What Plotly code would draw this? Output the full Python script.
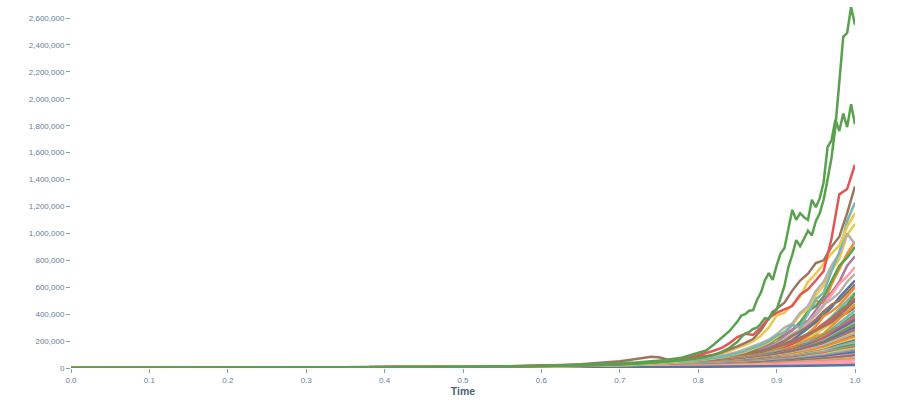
import plotly.graph_objects as go

# ---------------- data (values in thousands) ----------------
UNIT = 1000

T_COARSE = [0, 0.2, 0.4, 0.5, 0.6, 0.65, 0.7, 0.72, 0.74, 0.76, 0.78, 0.8,
            0.82, 0.84, 0.86, 0.88, 0.9, 0.92, 0.94, 0.96, 0.98, 1.0]

T_FINE = [0, 0.1, 0.2, 0.3, 0.4, 0.5, 0.55, 0.6, 0.625, 0.65, 0.675,
          0.70, 0.71, 0.72, 0.73, 0.74, 0.75, 0.76, 0.77, 0.78, 0.79,
          0.80, 0.81, 0.82, 0.83, 0.84, 0.85, 0.86, 0.87, 0.88, 0.89,
          0.90, 0.91, 0.92, 0.93, 0.94, 0.95, 0.96, 0.97, 0.98, 0.99, 1.00]

T_GREEN = [0, 0.1, 0.2, 0.3, 0.4, 0.5, 0.55, 0.6, 0.65, 0.7, 0.72, 0.74, 0.76, 0.78, 0.8, 0.81, 0.82, 0.83, 0.84,
           0.85, 0.855, 0.86, 0.865, 0.87, 0.875, 0.88, 0.885, 0.89, 0.895, 0.9, 0.905, 0.91, 0.915, 0.92,
           0.925, 0.93, 0.935, 0.94, 0.945, 0.95, 0.955, 0.96, 0.965, 0.97, 0.975, 0.98, 0.985, 0.99, 0.995, 1.0]

LOW_SERIES = [
    [0.4, 1.7, 4.5, 7.6, 12.8, 16.4, 22, 24, 27.9, 32, 37.6, 44.8, 55.6, 67.5, 83, 100, 130, 155, 208, 255, 365, 470],
    [0.4, 1.6, 4.3, 7.3, 12.3, 15.8, 21.2, 23.1, 26.8, 30.6, 36, 43, 53, 64.5, 79, 96, 122, 148, 195, 240, 335, 425],
    [0.4, 1.6, 4.2, 7.1, 12, 15.4, 20.8, 22.6, 26.2, 30, 35.1, 42, 51.6, 62.8, 77, 97, 114, 150, 180, 242, 310, 400],
    [0.4, 1.5, 4.1, 7.0, 11.8, 15.2, 20.4, 22.3, 25.6, 29.8, 34.5, 41.6, 50.4, 62, 75, 94, 110, 148, 172, 236, 300, 385],
    [0.4, 1.5, 4.1, 7.0, 11.8, 15.1, 20.4, 22.1, 25.6, 29.4, 34.4, 41.2, 50.5, 61.3, 75, 92, 113, 142, 177, 228, 302, 385],
    [0.4, 1.5, 4.0, 6.9, 11.6, 14.8, 20, 21.8, 25.2, 28.9, 33.8, 40.4, 49.5, 60, 73.5, 90, 110, 138, 172, 220, 290, 365],
    [0.4, 1.5, 4.0, 6.8, 11.4, 14.5, 19.6, 21, 24.6, 28.4, 33.2, 39.5, 48.7, 58.6, 72, 84, 112, 128, 170, 205, 285, 350],
    [0.4, 1.4, 3.9, 6.6, 11.2, 14.3, 19.2, 20.8, 24.1, 27.5, 32.6, 38.4, 47, 56.8, 70, 85, 104, 129, 160, 204, 268, 335],
    [0.4, 1.4, 3.8, 6.4, 10.9, 13.8, 18.8, 20.2, 23.9, 26.6, 32.5, 37.3, 46.9, 55, 70, 83.4, 105, 126, 160, 197, 262, 325],
    [0.4, 1.4, 3.7, 6.3, 10.6, 13.8, 18.3, 19.6, 23.4, 26.5, 31.6, 36.2, 45.8, 54, 68, 80.5, 101, 122, 155, 189, 248, 305],
    [0.3, 1.3, 3.6, 6.2, 10.4, 13.4, 18, 19.5, 22.8, 25.6, 30, 35.4, 43.3, 52.4, 64, 78, 95, 118, 146, 186, 244, 300],
    [0.3, 1.3, 3.5, 6.0, 10.2, 13.1, 17.6, 19.2, 22.1, 25.3, 29.2, 34.8, 42, 51.3, 62, 75.5, 92, 114, 140, 178, 232, 285],
    [0.3, 1.3, 3.5, 6.0, 10.1, 12.8, 17.3, 18.6, 22.4, 24.5, 29.6, 34.2, 42.8, 50, 63, 74.4, 94.6, 113, 144, 175, 225, 275],
    [0.3, 1.2, 3.4, 5.8, 9.9, 12.7, 17.2, 18.6, 21.6, 24.2, 28.4, 33.6, 40.5, 49.2, 59, 72, 88, 108, 132, 168, 218, 265],
    [0.3, 1.2, 3.3, 5.6, 9.6, 12.3, 16.8, 17.6, 21.4, 23.5, 28.5, 32.3, 40.8, 47, 60, 70.6, 89.5, 106, 137, 165, 213, 255],
    [0.3, 1.2, 3.2, 5.5, 9.3, 11.9, 16.2, 17.4, 20.3, 22.7, 26.8, 31.4, 38, 46, 55.5, 67.4, 82, 100, 122, 155, 198, 240],
    [0.3, 1.2, 3.2, 5.5, 9.1, 11.8, 16.3, 17.1, 20.4, 22.5, 26.6, 30.3, 37.8, 44.1, 56, 65.4, 83.5, 98, 127, 152, 198, 235],
    [0.3, 1.1, 3.1, 5.2, 8.8, 11.2, 15.4, 16.6, 19.3, 21.6, 25.4, 29.8, 36, 43.4, 52.3, 63.4, 77, 93, 113, 142, 178, 215],
    [0.3, 1.1, 3.0, 5.0, 8.6, 10.9, 15.2, 15.7, 18.4, 20.6, 24.5, 27.4, 34.7, 40.2, 51, 59.6, 75.4, 88, 112, 132, 172, 205],
    [0.3, 1.1, 3.0, 5.0, 8.6, 10.8, 15.2, 15.6, 18.3, 19.6, 23.4, 26.4, 33.7, 39.1, 49, 56.7, 72.4, 85, 108, 127, 163, 195],
    [0.3, 1.0, 2.8, 4.8, 8.2, 10.5, 14.3, 15.2, 17.8, 20, 23.6, 27.5, 33.4, 40.3, 48.6, 58, 70, 86, 104, 128, 156, 180],
    [0.3, 1.0, 2.8, 4.8, 8.1, 10.4, 14.2, 14.8, 17.3, 19.6, 23.5, 26.5, 32.6, 38.2, 47.9, 55, 69, 80, 101, 118, 150, 175],
    [0.3, 1.0, 2.7, 4.6, 7.8, 10, 13.6, 14.5, 17, 19.1, 22.4, 26.1, 31.6, 37.8, 45.5, 55, 66, 80, 96, 116, 138, 160],
    [0.3, 1.0, 2.6, 4.5, 7.6, 9.8, 13.2, 13.8, 16.4, 17.7, 21.5, 24.6, 30.6, 35.2, 43.8, 51, 63, 74, 91, 106, 132, 155],
    [0.3, 1.0, 2.6, 4.5, 7.6, 9.9, 13.2, 13.8, 16.3, 17.6, 21.4, 23.6, 29.6, 34.3, 41.8, 48.2, 60, 69, 86, 100, 124, 145],
    [0.3, 0.9, 2.5, 4.2, 7.1, 8.9, 12.2, 12.8, 15.3, 16.8, 20.4, 22.6, 28.5, 31.4, 38.7, 45.2, 56, 65, 81, 94, 116, 135],
    [0.3, 0.9, 2.4, 4.0, 6.9, 8.7, 11.7, 12.3, 14.3, 15.7, 19.4, 21.6, 26.5, 30.4, 37.7, 43.2, 52.8, 61, 75, 87, 106, 125],
    [0.2, 0.8, 2.2, 4.0, 6.6, 8.4, 11.2, 11.9, 14.2, 15.8, 18.4, 20.7, 25.4, 28.6, 34.6, 40.5, 49.8, 57.2, 71, 81, 99, 115],
    [0.2, 0.8, 2.1, 3.6, 6.1, 7.9, 10.7, 11.3, 13.2, 14.7, 17.3, 18.6, 23.4, 26.5, 31.6, 36.3, 44.8, 51, 63, 72, 87, 100],
    [0.2, 0.7, 2.0, 3.5, 6.0, 8.1, 10.2, 11.3, 12.7, 14.4, 15.8, 19.5, 22.6, 27.4, 30.6, 37.6, 43.5, 52.8, 59.4, 71, 81, 95],
    [0.2, 0.6, 1.8, 3.0, 5.0, 6.6, 9.0, 9.7, 11.2, 12.8, 15.2, 16.5, 20.4, 22.6, 27.5, 30.5, 36.5, 41, 50.5, 57, 67, 75],
    [0.2, 0.6, 1.8, 3.1, 5.1, 6.4, 8.6, 9.1, 10.8, 12.3, 13.8, 16.4, 18.7, 22.4, 24.6, 29.5, 32.6, 38.8, 43.3, 51, 56, 65],
    [0.2, 0.5, 1.5, 2.8, 4.5, 6.0, 8.0, 8.8, 10, 11.6, 12.8, 15, 16.5, 20, 22.5, 27, 30, 36, 40, 47, 51, 58],
    [0.1, 0.4, 1.2, 2.0, 3.5, 4.5, 6.0, 6.6, 7.4, 8.6, 9.3, 10.4, 12, 13, 15.5, 17, 20, 22, 26, 29, 34, 38],
    [0.1, 0.3, 1.0, 1.8, 3.0, 3.8, 5.0, 5.4, 6.1, 6.5, 7.4, 8.0, 8.8, 9.9, 11, 12, 13.8, 15, 16.5, 18.5, 20, 22],
]
LOW_COLORS = ["orange", "teal", "green", "orange", "purple", "red", "blue", "gray", "green", "red",
              "blue", "purple", "brown", "yellow", "gray", "blue", "orange", "yellow", "blue", "teal",
              "pink", "green", "teal", "red", "yellow", "teal", "purple", "blue", "pink", "brown",
              "gray", "orange", "pink", "pink", "blue"]

MID_SERIES = [
    [0.5, 1.2, 2, 3.5, 5, 8, 11, 14, 17, 19, 22,
     25, 26, 27, 31, 33, 35, 36, 41, 44, 48,
     52, 60, 66, 75, 88, 100, 115, 140, 160, 190,
     215, 260, 320, 300, 410, 500, 480, 620, 740, 850, 940],
    [0.4, 1.1, 2, 3.4, 5, 8, 10, 13, 15, 17, 20,
     23, 25, 26, 27, 29, 33, 35, 38, 41, 46,
     50, 54, 60, 70, 82, 90, 105, 130, 150, 175,
     220, 240, 280, 340, 420, 460, 530, 640, 760, 820, 900],
    [0.4, 1, 1.8, 3, 4.5, 7, 9.5, 12, 14, 16, 19,
     21, 23, 24, 26, 27, 30, 33, 36, 38, 43,
     47, 52, 58, 64, 72, 84, 98, 118, 140, 165,
     190, 240, 285, 320, 350, 430, 510, 560, 640, 760, 830],
    [0.3, 0.8, 1.5, 2.6, 4, 7, 9, 12, 13.5, 15, 18,
     20, 21, 22, 24, 26, 28, 30, 33, 36, 39,
     42, 48, 55, 60, 68, 78, 90, 105, 120, 145,
     175, 200, 225, 280, 335, 390, 460, 540, 625, 680, 750],
    [0.4, 1, 1.8, 3, 4.5, 8, 10, 13, 15, 17, 19,
     22, 24, 25, 27, 28, 31, 33, 36, 38, 42,
     46, 51, 57, 63, 70, 80, 92, 110, 130, 150,
     180, 215, 250, 290, 340, 400, 470, 510, 560, 640, 700],
    [0.3, 0.9, 1.5, 2.6, 4, 6.5, 9, 11, 12.5, 14, 16.5,
     19, 20, 21, 23, 24, 26, 28, 31, 33, 36,
     40, 45, 50, 56, 62, 70, 80, 92, 108, 125,
     150, 175, 205, 250, 295, 340, 395, 450, 525, 590, 650],
    [0.3, 0.9, 1.6, 2.6, 4, 7, 9, 12, 13.5, 15, 17.5,
     20, 22, 23, 25, 26, 29, 31, 34, 36, 40,
     44, 50, 56, 62, 70, 82, 95, 108, 125, 145,
     170, 200, 240, 270, 310, 360, 420, 470, 500, 560, 620],
    [0.3, 0.8, 1.4, 2.3, 3.5, 6, 8, 10, 11.5, 13, 15,
     17, 19, 20, 21, 23, 25, 27, 29, 30, 33,
     37, 41, 46, 52, 58, 66, 74, 86, 100, 118,
     140, 165, 195, 220, 255, 310, 385, 420, 465, 530, 600],
    [0.3, 0.8, 1.3, 2.3, 3.5, 6, 8, 10, 11.5, 13, 15,
     17, 18, 19, 20, 22, 23, 25, 27, 29, 32,
     35, 38, 42, 47, 52, 60, 70, 82, 95, 110,
     130, 150, 175, 200, 240, 280, 330, 380, 440, 500, 560],
    [0.3, 0.8, 1.3, 2.2, 3.5, 6, 7.5, 9, 10.5, 12, 14,
     16, 17, 18, 20, 21, 23, 25, 26, 28, 31,
     34, 39, 44, 50, 55, 62, 68, 78, 90, 105,
     125, 145, 170, 195, 230, 270, 320, 370, 420, 470, 550],
    [0.3, 0.7, 1.2, 2, 3.2, 5.5, 7.5, 9, 10.5, 12, 14,
     16, 17, 18, 20, 21, 23, 24, 26, 29, 32,
     36, 40, 45, 51, 58, 64, 72, 84, 98, 112,
     130, 150, 180, 205, 240, 285, 330, 360, 410, 450, 520],
    [0.3, 0.7, 1.2, 2, 3, 5, 7, 8.5, 10, 11, 13,
     15, 16, 17, 18, 19, 21, 22, 24, 26, 28,
     31, 35, 39, 43, 48, 55, 62, 70, 80, 95,
     110, 128, 150, 175, 210, 250, 300, 340, 390, 430, 500],
    [0.3, 0.7, 1.2, 2, 3, 5, 7, 9, 10.5, 12, 14,
     16, 17, 18, 19, 20, 22, 24, 25, 27, 30,
     33, 36, 40, 45, 50, 57, 65, 74, 86, 100,
     115, 135, 160, 185, 220, 255, 290, 330, 380, 420, 480],
    [0.3, 0.8, 1.5, 3, 4, 8, 11, 16, 22, 28, 38,
     50, 58, 65, 75, 84, 80, 64, 66, 74, 80,
     86, 88, 90, 92, 96, 102, 110, 120, 130, 145,
     160, 175, 200, 225, 255, 280, 310, 340, 385, 410, 450],
]
MID_COLORS = ["orange", "green", "purple", "pink", "gray", "blue", "brown",
              "orange", "teal", "green", "red", "blue", "yellow", "brown"]

yellow_second = [0.3, 0.7, 1.1, 1.9, 3, 5, 7, 9, 11, 13, 16,
                 19, 21, 23, 25, 28, 31, 35, 39, 44, 50,
                 56, 63, 72, 82, 92, 105, 120, 140, 165, 190,
                 230, 270, 320, 395, 440, 540, 610, 720, 810, 990, 1070]
gray_major = [0.3, 0.7, 1.1, 1.9, 3, 5, 7, 9.5, 11.5, 14, 17,
              20, 22, 24, 27, 30, 34, 38, 43, 48, 55,
              62, 70, 80, 92, 105, 120, 140, 160, 185, 210,
              250, 300, 330, 410, 460, 570, 640, 760, 850, 1000, 920]
teal_major = [0.3, 0.7, 1.2, 2, 3.2, 5.5, 7.5, 10, 12, 14, 17,
              20, 22, 24, 27, 30, 33, 37, 41, 46, 52,
              58, 66, 74, 84, 96, 110, 128, 150, 172, 200,
              240, 265, 320, 300, 400, 510, 560, 720, 860, 1090, 1230]
yellow_major = [0.3, 0.8, 1.3, 2.2, 3.5, 6, 8, 11, 13, 16, 19,
                23, 25, 28, 31, 34, 38, 43, 48, 55, 63,
                72, 82, 95, 110, 125, 150, 170, 200, 240, 300,
                390, 410, 470, 530, 640, 700, 775, 850, 910, 1050, 1150]
brown_major = [0.4, 0.9, 1.4, 2.4, 3.8, 6.5, 9, 12, 15, 18, 22,
               26, 29, 32, 35, 39, 43, 48, 54, 60, 68,
               78, 88, 98, 115, 135, 160, 186, 215, 280, 370,
               440, 485, 575, 650, 700, 780, 800, 900, 975, 1150, 1350]
red_major = [0.4, 0.9, 1.5, 2.5, 4, 7, 9.5, 13, 16, 19, 23,
             28, 31, 34, 38, 42, 47, 53, 60, 68, 78,
             95, 110, 128, 150, 185, 230, 255, 245, 300, 370,
             410, 435, 460, 545, 585, 650, 720, 960, 1290, 1330, 1510]

green_b = [0.5, 1, 1.6, 3, 5, 9, 12, 17, 24, 34, 40, 50, 60, 78, 110, 130, 175, 225, 275,
           345, 390, 400, 425, 430, 505, 560, 650, 705, 655, 760, 850, 890, 1040, 1175, 1100,
           1150, 1120, 1100, 1250, 1195, 1260, 1380, 1640, 1690, 1845, 1760, 1890, 1790, 1960, 1810]
green_a = [0.4, 0.8, 1.3, 2.5, 4, 7, 10, 14, 20, 27, 32, 40, 48, 58, 72, 82, 98, 120, 150,
           195, 230, 255, 268, 290, 300, 330, 370, 362, 420, 432, 520, 610, 750, 840, 950,
           905, 960, 1020, 985, 1090, 1150, 1250, 1400, 1560, 1790, 2150, 2460, 2490, 2680, 2550]

X_TICKS = [0, 0.1, 0.2, 0.3, 0.4, 0.5, 0.6, 0.7, 0.8, 0.9, 1.0]
Y_TICKS = [0, 200000, 400000, 600000, 800000, 1000000, 1200000, 1400000,
           1600000, 1800000, 2000000, 2200000, 2400000, 2600000]

# ---------------- styles ----------------
PALETTE = {
    "blue": "#4e79a7", "orange": "#f28e2c", "red": "#e15759", "teal": "#76b7b2",
    "green": "#59a14f", "yellow": "#edc949", "purple": "#af7aa1", "pink": "#ff9da7",
    "brown": "#9c755f", "gray": "#bab0ab",
}
LW = 2.5

fig = go.Figure()


def add(t, vals, color):
    assert len(t) == len(vals), (len(t), len(vals))
    fig.add_trace(go.Scatter(
        x=t, y=[v * UNIT for v in vals], mode="lines",
        line=dict(color=PALETTE[color], width=LW),
        hoverinfo="skip", showlegend=False))


for vals, c in zip(MID_SERIES, MID_COLORS):
    add(T_FINE, vals, c)
for vals, c in zip(LOW_SERIES, LOW_COLORS):
    add(T_COARSE, vals, c)

add(T_FINE, yellow_second, "yellow")
add(T_FINE, gray_major, "gray")
add(T_FINE, teal_major, "teal")
add(T_FINE, yellow_major, "yellow")
add(T_FINE, brown_major, "brown")
add(T_FINE, red_major, "red")
add(T_GREEN, green_b, "green")
add(T_GREEN, green_a, "green")

tick_color = "#8a9dab"
label_color = "#66809a"

fig.update_layout(
    width=921, height=402,
    margin=dict(l=71, r=66, t=5, b=34),
    paper_bgcolor="white", plot_bgcolor="white",
    showlegend=False,
    font=dict(family="Liberation Sans, Arial, sans-serif", color=label_color),
)
fig.update_xaxes(
    range=[0, 1], tickvals=X_TICKS, tickformat=".1f",
    ticks="outside", ticklen=4, tickcolor=tick_color, tickwidth=1,
    tickfont=dict(size=8, color=label_color),
    showgrid=False, zeroline=False, showline=False,
    title=dict(text="<b>Time</b>", font=dict(size=10.5, color="#4f6475"), standoff=3),
    automargin=False,
)
fig.update_yaxes(
    range=[0, 2696600], tickvals=Y_TICKS, tickformat=",d",
    ticks="outside", ticklen=4, tickcolor=tick_color, tickwidth=1,
    tickfont=dict(size=8, color=label_color),
    showgrid=False, zeroline=False, showline=False,
    automargin=False,
)

fig.write_html("out.html",
               config={"displayModeBar": False},
               post_script="document.body.style.margin='0';document.body.style.overflow='hidden';")
